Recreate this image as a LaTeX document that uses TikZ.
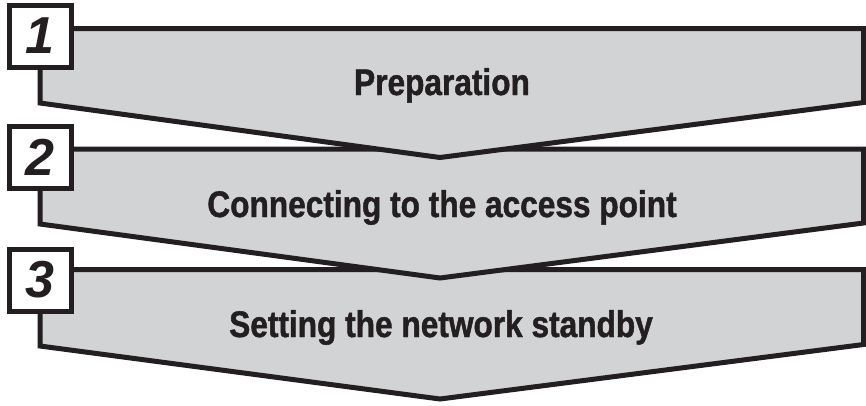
\documentclass[tikz,border=0pt]{standalone}
\usepackage{fontspec}
\setmainfont{Liberation Sans}
\newfontfamily\condfont[FakeStretch=0.855, BoldFeatures={FakeBold=1.2}]{Liberation Sans}
\newfontfamily\numfont[BoldFeatures={FakeBold=1.2}]{Liberation Sans}
\definecolor{shapegray}{HTML}{D1D3D4}
\definecolor{inkblack}{HTML}{231F20}
\tikzset{
  chevron/.style={draw=inkblack, fill=shapegray, line width=5pt, line join=miter},
  numbox/.style={draw=inkblack, fill=white, line width=5pt, minimum size=62pt, inner sep=0pt,
    font=\numfont\fontsize{52}{52}\selectfont\bfseries\itshape, text=inkblack},
  steptext/.style={anchor=base, inner sep=0pt, text=inkblack,
    font=\condfont\fontsize{37}{37}\selectfont\bfseries}
}
\begin{document}
\begin{tikzpicture}[x=1pt, y=-1pt]
\useasboundingbox (0,0) rectangle (866,405);
% step 3
\draw[chevron] (40,269.5) -- (863.5,269.5) -- (863.5,344.5) -- (440,399) -- (40,346) -- cycle;
\node[numbox] (n3) at (40,280) {3};
\node[steptext] (t3) at (441,337) {Setting the network standby};
% step 2
\draw[chevron] (40,149) -- (863.5,149) -- (863.5,223) -- (440,278) -- (40,224) -- cycle;
\node[numbox] (n2) at (40,157) {2};
\node[steptext] (t2) at (442,217) {Connecting to the access point};
% step 1
\draw[chevron] (40,28.5) -- (863.5,28.5) -- (863.5,102.5) -- (440,157.5) -- (40,103) -- cycle;
\node[numbox] (n1) at (40,36) {1};
\node[steptext] (t1) at (442,95) {Preparation};
\end{tikzpicture}
\end{document}
